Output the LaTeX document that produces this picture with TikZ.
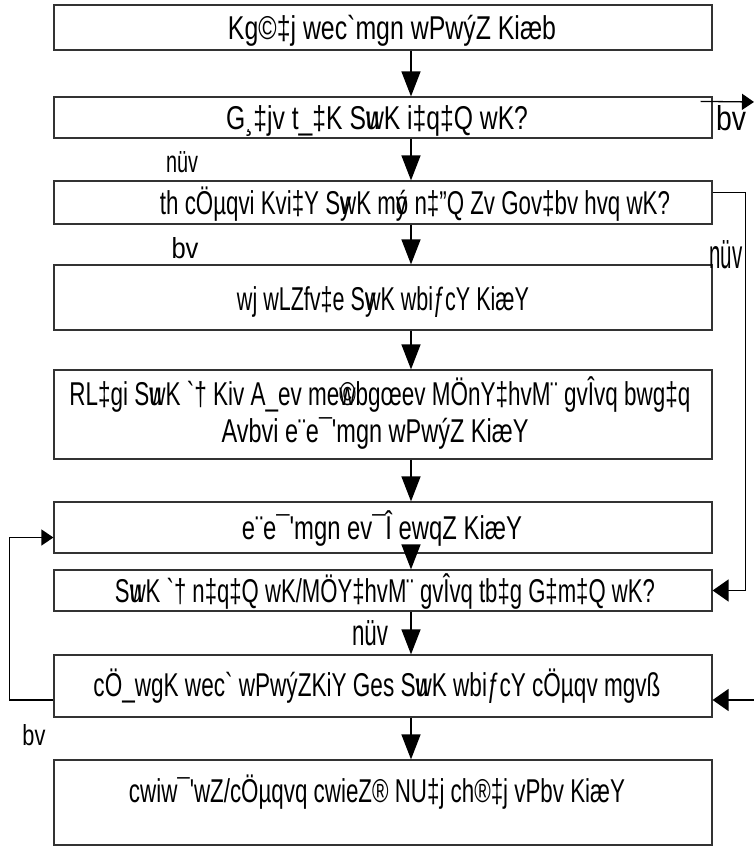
\documentclass[tikz,border=0pt]{standalone}
\usepackage{fontspec}
\setmainfont{Liberation Sans}
\usetikzlibrary{arrows.meta}
\newcommand{\ov}[2]{\rlap{#1}#2}
\newcommand{\fw}[2]{\resizebox{#1pt}{\height}{#2}}
\newcommand{\lb}[3]{\resizebox{#1pt}{#2pt}{#3}}
\newcommand{\gr}{\XeTeXglyph\XeTeXglyphindex "grave"\relax}
\newcommand{\qs}{\XeTeXglyph\XeTeXglyphindex "quotesingle"\relax}
\begin{document}
\begin{tikzpicture}[x=1pt,y=-1pt,
  box/.style={draw=black!80, line width=1.2pt, minimum width=658pt, inner sep=0pt},
  txt/.style={anchor=base, inner sep=0pt, font=\fontsize{33}{36}\selectfont},
  lbl/.style={anchor=base, inner sep=0pt, font=\fontsize{30}{30}\selectfont},
  arr/.style={line width=1.4pt, -{Triangle[length=25pt,width=19pt]}},
  arrbig/.style={line width=1.6pt, -{Triangle[length=16pt,width=22pt]}},
  arrsmall/.style={line width=1.3pt, -{Triangle[length=12pt,width=16pt]}},
  loop/.style={line width=1.1pt}]
\useasboundingbox (0,0) rectangle (754,856);

% boxes
\node[box, minimum height=45pt] (b1) at (383,27.5) {};
\node[box, minimum height=41pt] (b2) at (383,117.5) {};
\node[box, minimum height=43pt] (b3) at (383,202.5) {};
\node[box, minimum height=65pt] (b4) at (383,297.5) {};
\node[box, minimum height=89pt] (b5) at (383,414.5) {};
\node[box, minimum height=51pt] (b6) at (383,527.5) {};
\node[box, minimum height=41pt] (b7) at (383,590.5) {};
\node[box, minimum height=62pt] (b8) at (383,686) {};
\node[box, minimum height=85pt] (b9) at (383,802.5) {};

% texts
\node[txt] (t1) at (392,40) {\fw{328}{Kg©‡j wec\gr mgn wPwýZ Kiæb}};
\node[txt] (t2) at (377,130) {\fw{302}{G¸‡jv t\_‡K S\ov{u}wK i‡q‡Q wK?}};
\node[txt] (t3) at (415,214) {\fw{510}{th cÖµqvi Kvi‡Y S\ov{y}wK m\ov{y}ó n‡"Q Zv Gov‡bv hvq wK?}};
\node[txt] (t4) at (383,310) {\fw{292}{wj wLZfv‡e S\ov{y}wK wbiƒcY KiæY}};
\node[txt] (t5a) at (380,405) {\fw{621}{RL‡gi S\ov{u}wK \gr† Kiv A\_ev me\ov{©}wbgœev MÖnY‡hvM¨ gvÎvq bwg‡q}};
\node[txt] (t5b) at (375,442) {\fw{307}{Avbvi e¨e¯\qs mgn wPwýZ KiæY}};
\node[txt] (t6) at (382,539) {\fw{280}{e¨e¯\qs mgn ev¯Î ewqZ KiæY}};
\node[txt] (t7) at (385,602) {\fw{540}{S\ov{u}wK \gr† n‡q‡Q wK/MÖY‡hvM¨ gvÎvq tb‡g G‡m‡Q wK?}};
\node[txt] (t8) at (377,696) {\fw{567}{cÖ\_wgK wec\gr\ wPwýZKiY Ges S\ov{u}wK wbiƒcY cÖµqv mgvß}};
\node[txt] (t9) at (377,802) {\fw{496}{cwiw¯\qs wZ/cÖµqvq cwieZ® NU‡j ch®‡j vPbv KiæY}};

% labels
\node[lbl] (l1) at (731,130) {\lb{30}{25}{bv}};
\node[lbl] (l2) at (182,172) {\lb{32}{21}{nüv}};
\node[lbl] (l3) at (185,258) {\lb{27}{21}{bv}};
\node[lbl] (l4) at (726,268) {\lb{33}{28}{nüv}};
\node[lbl] (l5) at (370,645) {\lb{36}{25}{nüv}};
\node[lbl] (l6) at (34,745) {\lb{23}{21}{bv}};

% main flow
\draw[arr] ([xshift=28pt]b1.south) -- ([xshift=28pt]b2.north);
\draw[arr] ([xshift=28pt]b2.south) -- ([xshift=28pt]b3.north);
\draw[arr] ([xshift=28pt]b3.south) -- ([xshift=28pt]b4.north);
\draw[arr] ([xshift=28pt]b4.south) -- ([xshift=28pt]b5.north);
\draw[arr] ([xshift=28pt]b5.south) -- ([xshift=28pt]b6.north);
\draw[arr] ([xshift=28pt]b6.south) -- ([xshift=28pt]b7.north);
\draw[arr] ([xshift=28pt]b7.south) -- ([xshift=28pt]b8.north);
\draw[arr] ([xshift=28pt]b8.south) -- ([xshift=28pt]b9.north);

% side connectors
\coordinate (e1) at (754,102);
\draw[arrsmall] ([xshift=-12pt,yshift=-5pt]b2.north east) -- (e1);
\draw[loop] ([yshift=-12pt]b3.north east) -- ++(33,0) coordinate (r1);
\draw[arrbig] (r1) |- (b7.east);
\coordinate (e2) at (754,700);
\draw[arrbig] (e2) -- (e2 -| b8.east);
\draw[arrsmall] ([yshift=-14pt]b8.west) -- ++(-44,0) |- ([yshift=-10pt]b6.west);
\end{tikzpicture}
\end{document}
